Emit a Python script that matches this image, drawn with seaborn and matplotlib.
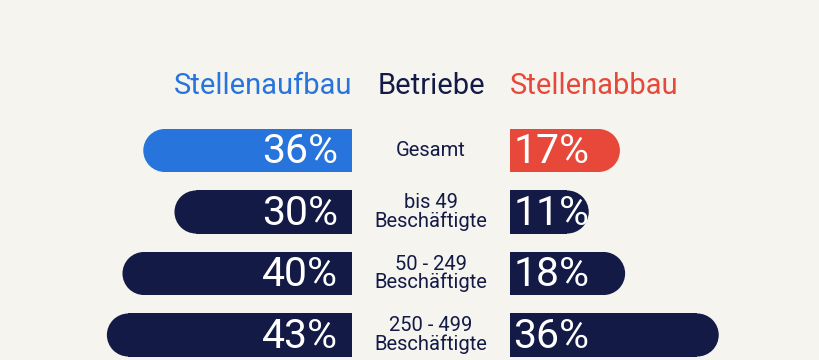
import matplotlib
matplotlib.use('Agg')
import matplotlib.pyplot as plt
import matplotlib.transforms as mtransforms
from matplotlib.patches import Ellipse
import seaborn as sns
import pandas as pd


# data
categories = ['Gesamt', 'bis 49\nBeschäftigte', '50 - 249\nBeschäftigte', '250 - 499\nBeschäftigte']
aufbau = [36, 30, 40, 43]   # Stellenaufbau, % der Betriebe
abbau = [17, 11, 18, 36]    # Stellenabbau, % der Betriebe
headers = ['Stellenaufbau', 'Betriebe', 'Stellenabbau']

bg = '#f5f4ef'
navy = '#131a45'
blue = '#2775dc'
red = '#e8483a'

sns.set_theme(style='white')
plt.rcParams['font.family'] = ['Roboto', 'DejaVu Sans']

df = pd.DataFrame({'cat': categories, 'aufbau': aufbau, 'abbau': abbau})

W, H = 820, 360
fig = plt.figure(figsize=(W / 100, H / 100), dpi=100, facecolor=bg)

# px per percent and layout in pixels
pxPerPct = 5.2
xmax = 52
rowPx = 61.5
firstRow = 150.5
zeroLeft, zeroRight = 352, 510
axW = xmax * pxPerPct

axL = fig.add_axes([(zeroLeft - axW) / W, 0, axW / W, 1])
axR = fig.add_axes([zeroRight / W, 0, axW / W, 1], sharey=axL)

palL = [blue] + [navy] * 3
palR = [red] + [navy] * 3
sns.barplot(df, y='cat', x='aufbau', hue='cat', palette=palL, orient='h', saturation=1,
            width=0.7, legend=False, ax=axL, linewidth=0)
sns.barplot(df, y='cat', x='abbau', hue='cat', palette=palR, orient='h', saturation=1,
            width=0.7, legend=False, ax=axR, linewidth=0)

axL.set_xlim(xmax, 0)
axR.set_xlim(0, xmax)
axL.set_ylim((H - firstRow) / rowPx, -firstRow / rowPx)

for ax in (axL, axR):
    ax.set_facecolor('none')
    ax.axis('off')


def roundEnds(ax):
    # rounded cap on the outer end of every bar
    for p in list(ax.patches):
        w, h = p.get_width(), p.get_height()
        if w <= 0:
            continue
        yc = p.get_y() + h / 2
        r = (h / 2) * rowPx / pxPerPct
        ax.add_patch(Ellipse((w, yc), 2 * r, h, facecolor=p.get_facecolor(),
                             edgecolor='none', linewidth=0))


roundEnds(axL)
roundEnds(axR)

pctFont = dict(fontsize=29.5, color='white', va='center')
for i, v in enumerate(aufbau):
    axL.annotate(f'{v}%', xy=(0, i), xytext=(-10, -1), textcoords='offset points',
                 ha='right', **pctFont)
for i, v in enumerate(abbau):
    axR.annotate(f'{v}%', xy=(0, i), xytext=(2.5, -1), textcoords='offset points',
                 ha='left', **pctFont)

mid = mtransforms.blended_transform_factory(fig.transFigure, axL.transData)
for i, c in enumerate(categories):
    fig.text(431 / W, i, c, transform=mid, ha='center', va='center',
             fontsize=14.5, color=navy, linespacing=0.95)

hy = (94 - firstRow) / rowPx
fig.text(zeroLeft / W, hy, headers[0], transform=mid, ha='right', va='baseline',
         fontsize=21, color=blue)
fig.text(431 / W, hy, headers[1], transform=mid, ha='center', va='baseline',
         fontsize=21, color=navy)
fig.text(zeroRight / W, hy, headers[2], transform=mid, ha='left', va='baseline',
         fontsize=21, color=red)

fig.savefig('out.png', dpi=100, facecolor=bg)
